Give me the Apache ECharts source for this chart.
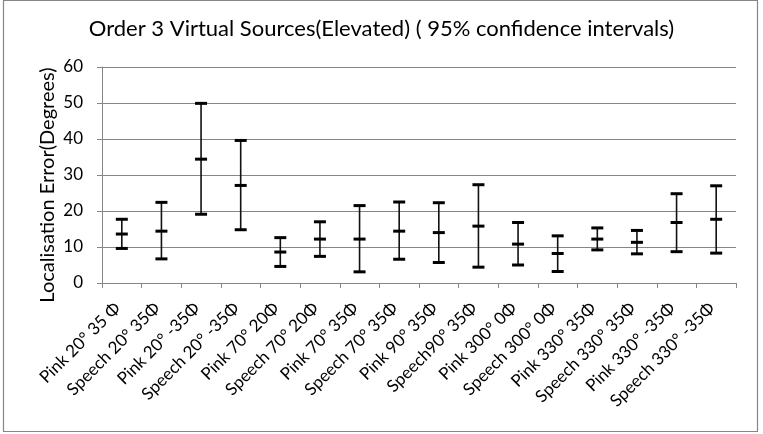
<!DOCTYPE html>
<html>
<head>
<meta charset="utf-8">
<script src="https://cdn.jsdelivr.net/npm/echarts@6/dist/echarts.min.js"></script>
<style>
  html, body { margin: 0; padding: 0; background: #fff; }
  #chart { width: 763px; height: 434px; }
</style>
</head>
<body>
<div id="chart"></div>
<script>
// conditions on the x axis
const categories = [
  'Pink 20° 35 Φ', 'Speech 20° 35Φ', 'Pink 20° -35Φ', 'Speech 20° -35Φ',
  'Pink 70° 20Φ', 'Speech 70° 20Φ', 'Pink 70° 35Φ', 'Speech 70° 35Φ',
  'Pink 90° 35Φ', 'Speech90° 35Φ', 'Pink 300° 0Φ', 'Speech 300° 0Φ',
  'Pink 330° 35Φ', 'Speech 330° 35Φ', 'Pink 330° -35Φ', 'Speech 330° -35Φ'
]
// mean error and 95% interval ends
const meanError = [13.6, 14.4, 34.4, 27.1, 8.6, 12.2, 12.2, 14.4, 14.0, 15.8, 10.8, 8.2, 12.2, 11.3, 16.8, 17.7]
const lowerCI = [9.6, 6.7, 19.1, 14.8, 4.6, 7.4, 3.1, 6.6, 5.7, 4.4, 5.0, 3.2, 9.2, 8.1, 8.7, 8.3]
const upperCI = [17.7, 22.4, 49.9, 39.6, 12.6, 17.0, 21.5, 22.5, 22.3, 27.3, 16.8, 13.1, 15.3, 14.6, 24.8, 27.0]
const yTicks = [0, 10, 20, 30, 40, 50, 60]

const font = 'Lato, "Noto Sans", sans-serif'
const axisGray = '#868686'

const chart = echarts.init(document.getElementById('chart'), null, { renderer: 'canvas' })

function renderBar(params, api) {
    const i = api.value(0)
    const lo = api.coord([i, api.value(1)])
    const mid = api.coord([i, api.value(2)])
    const hi = api.coord([i, api.value(3)])
    const half = 6
    const cap = (p) => ({
        type: 'rect',
        shape: { x: p[0] - half, y: p[1] - 1.5, width: half * 2, height: 3 },
        style: { fill: '#000' }
    })
    return {
        type: 'group',
        children: [
            {
                type: 'line',
                shape: { x1: lo[0], y1: lo[1], x2: hi[0], y2: hi[1] },
                style: { stroke: '#111', lineWidth: 1.6 }
            },
            cap(lo), cap(mid), cap(hi)
        ]
    }
}

chart.setOption({
    animation: false,
    backgroundColor: '#fff',
    title: {
        text: 'Order 3 Virtual Sources(Elevated) ( 95% confidence intervals)',
        left: 'center',
        top: 13,
        textStyle: { fontFamily: font, fontSize: 22, fontWeight: 'normal', color: '#000' }
    },
    graphic: [
        {
            type: 'rect',
            shape: { x: 3.5, y: 0.5, width: 754, height: 431 },
            style: { fill: 'none', stroke: axisGray, lineWidth: 1.2 },
            silent: true
        },
        {
            // y axis title, placed like the original (slightly below the grid centre)
            type: 'text',
            x: 48,
            y: 185,
            rotation: Math.PI / 2,
            style: {
                text: 'Localisation Error(Degrees)',
                font: '20px ' + font,
                fill: '#000',
                align: 'center',
                verticalAlign: 'middle'
            },
            silent: true
        }
    ],
    grid: { left: 102, right: 27, top: 67, bottom: 151 },
    xAxis: {
        type: 'category',
        data: categories,
        boundaryGap: true,
        axisLine: { lineStyle: { color: axisGray, width: 1 } },
        axisTick: { show: true, length: 5, lineStyle: { color: axisGray } },
        axisLabel: {
            rotate: 45,
            interval: 0,
            margin: 18,
            padding: [0, 6, 0, 0],
            fontFamily: font,
            fontSize: 17,
            color: '#000'
        }
    },
    yAxis: {
        type: 'value',
        min: 0,
        max: 60,
        interval: 10,
        axisLine: { show: true, lineStyle: { color: axisGray, width: 1 } },
        axisTick: { show: true, length: 5, lineStyle: { color: axisGray } },
        axisLabel: {
            fontFamily: font,
            fontSize: 17,
            color: '#000',
            margin: 19,
            formatter: (v) => yTicks.includes(v) ? String(v) : ''
        },
        splitLine: { lineStyle: { color: axisGray, width: 1 } }
    },
    series: [{
        type: 'custom',
        renderItem: renderBar,
        encode: { x: 0, y: [1, 2, 3] },
        data: categories.map((c, i) => [i, lowerCI[i], meanError[i], upperCI[i]])
    }]
})
</script>
</body>
</html>
